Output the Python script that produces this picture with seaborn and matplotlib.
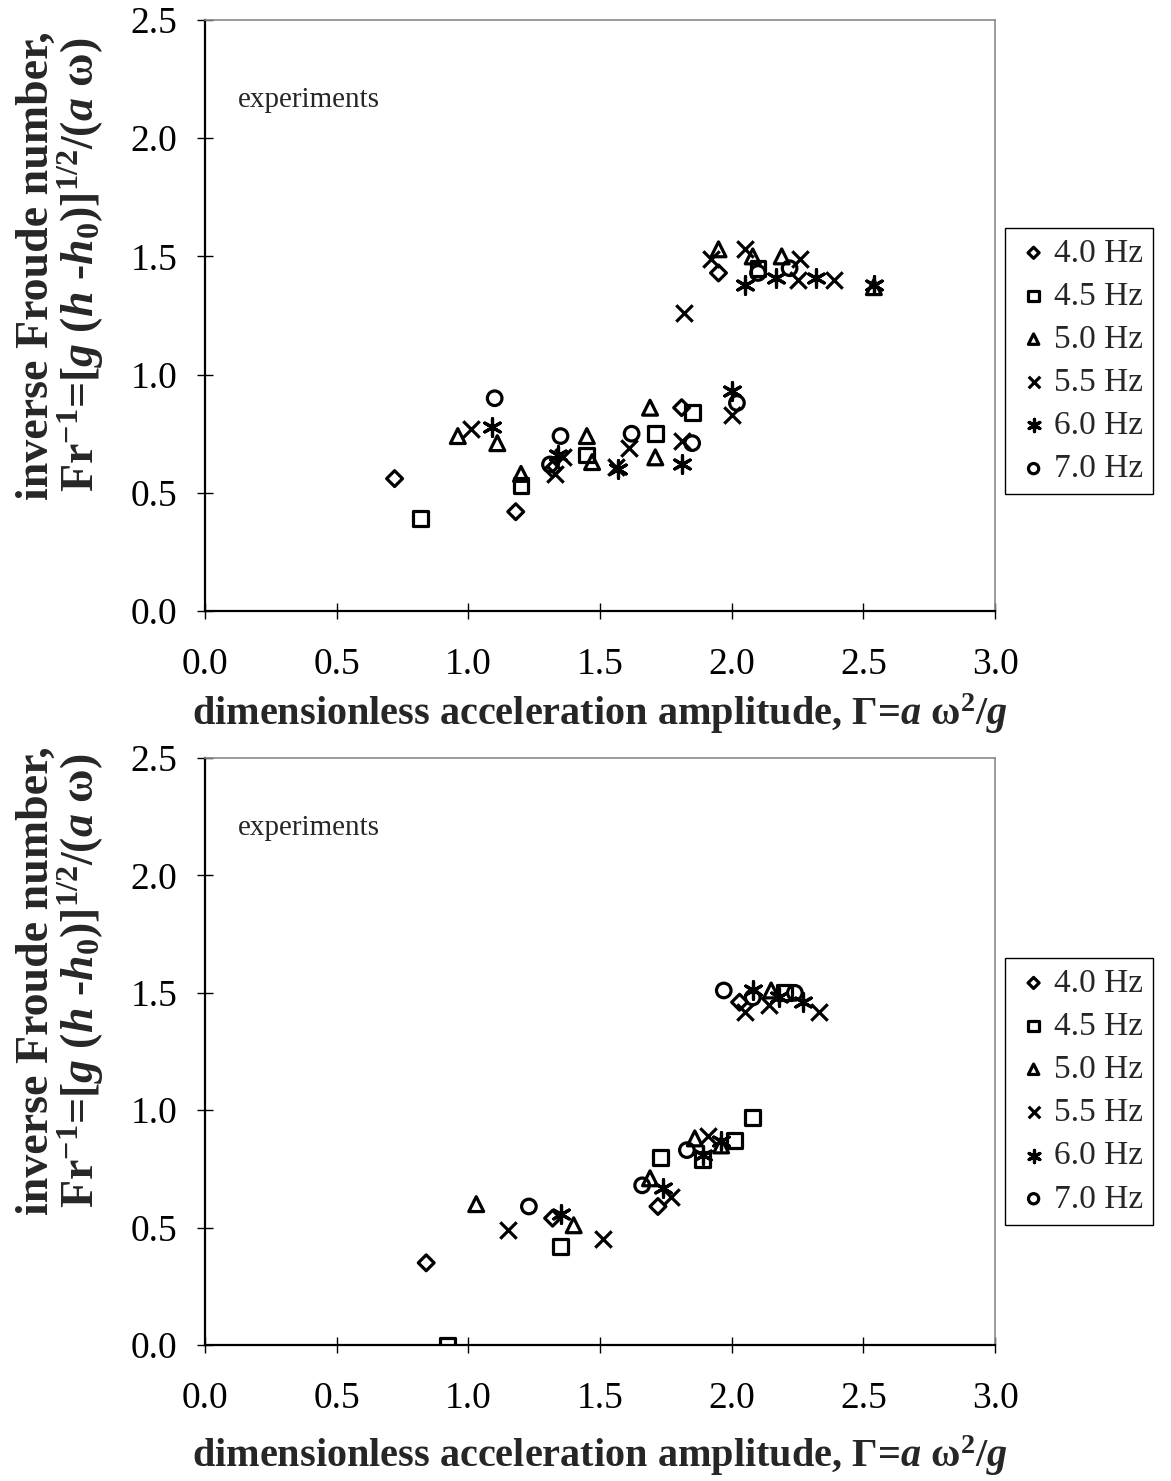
import matplotlib
matplotlib.use("Agg")
import pandas as pd
import matplotlib.pyplot as plt
import seaborn as sns

# ----------------------------------
# Data
# ----------------------------------
freqs = ["4.0 Hz", "4.5 Hz", "5.0 Hz", "5.5 Hz", "6.0 Hz", "7.0 Hz"]

# upper panel
top_40_gamma = [0.72, 1.18, 1.32, 1.81, 1.95]
top_40_fr = [0.56, 0.42, 0.60, 0.86, 1.43]
top_45_gamma = [0.82, 1.20, 1.45, 1.71, 1.85, 2.10]
top_45_fr = [0.39, 0.53, 0.66, 0.75, 0.84, 1.45]
top_50_gamma = [0.96, 1.11, 1.20, 1.45, 1.47, 1.69, 1.71, 1.95, 2.08, 2.19, 2.54]
top_50_fr = [0.74, 0.71, 0.58, 0.74, 0.63, 0.86, 0.65, 1.53, 1.50, 1.50, 1.37]
top_55_gamma = [1.01, 1.33, 1.36, 1.56, 1.61, 1.81, 1.82, 1.92, 2.00, 2.05, 2.25, 2.26, 2.39]
top_55_fr = [0.77, 0.58, 0.65, 0.61, 0.69, 0.72, 1.26, 1.49, 0.83, 1.53, 1.40, 1.49, 1.40]
top_60_gamma = [1.09, 1.34, 1.57, 1.81, 2.00, 2.05, 2.17, 2.32, 2.54]
top_60_fr = [0.78, 0.66, 0.60, 0.62, 0.93, 1.38, 1.41, 1.41, 1.38]
top_70_gamma = [1.10, 1.31, 1.35, 1.62, 1.85, 2.02, 2.10, 2.22]
top_70_fr = [0.90, 0.62, 0.74, 0.75, 0.71, 0.88, 1.43, 1.45]

# lower panel
bot_40_gamma = [0.84, 1.32, 1.72, 2.03]
bot_40_fr = [0.35, 0.54, 0.59, 1.46]
bot_45_gamma = [0.92, 1.35, 1.73, 1.89, 2.01, 2.08, 2.20]
bot_45_fr = [0.00, 0.42, 0.80, 0.79, 0.87, 0.97, 1.50]
bot_50_gamma = [1.03, 1.40, 1.69, 1.86, 1.96, 2.15]
bot_50_fr = [0.60, 0.51, 0.71, 0.88, 0.85, 1.51]
bot_55_gamma = [1.15, 1.51, 1.77, 1.91, 2.05, 2.14, 2.33]
bot_55_fr = [0.49, 0.45, 0.63, 0.89, 1.42, 1.45, 1.42]
bot_60_gamma = [1.35, 1.74, 1.89, 1.96, 2.08, 2.18, 2.27]
bot_60_fr = [0.56, 0.67, 0.81, 0.87, 1.51, 1.48, 1.46]
bot_70_gamma = [1.23, 1.66, 1.83, 1.97, 2.08, 2.24]
bot_70_fr = [0.59, 0.68, 0.83, 1.51, 1.48, 1.50]


def build(groups):
    rows = []
    for f, (gam, fr) in zip(freqs, groups):
        for g, v in zip(gam, fr):
            rows.append({"freq": f, "gamma": g, "fr": v})
    return pd.DataFrame(rows)


df_top = build([(top_40_gamma, top_40_fr), (top_45_gamma, top_45_fr),
                (top_50_gamma, top_50_fr), (top_55_gamma, top_55_fr),
                (top_60_gamma, top_60_fr), (top_70_gamma, top_70_fr)])
df_bot = build([(bot_40_gamma, bot_40_fr), (bot_45_gamma, bot_45_fr),
                (bot_50_gamma, bot_50_fr), (bot_55_gamma, bot_55_fr),
                (bot_60_gamma, bot_60_fr), (bot_70_gamma, bot_70_fr)])

# ----------------------------------
# Style
# ----------------------------------
sns.set_theme(style="white")
plt.rcParams["font.family"] = ["Liberation Serif", "DejaVu Serif"]
plt.rcParams["mathtext.fontset"] = "custom"
plt.rcParams["mathtext.rm"] = "Liberation Serif:bold"
plt.rcParams["mathtext.it"] = "Liberation Serif:italic:bold"
plt.rcParams["mathtext.bf"] = "Liberation Serif:bold"

markers = {"4.0 Hz": "D", "4.5 Hz": "s", "5.0 Hz": "^",
           "5.5 Hz": "x", "6.0 Hz": (6, 2, 0), "7.0 Hz": "o"}
sizes = {"4.0 Hz": 65, "4.5 Hz": 115, "5.0 Hz": 115,
         "5.5 Hz": 140, "6.0 Hz": 160, "7.0 Hz": 110}
line_art = ["5.5 Hz", "6.0 Hz"]

xlab = r"dimensionless acceleration amplitude, Γ=$\mathit{a}$ ω$^{2}$/$\mathit{g}$"
ylab = ("inverse Froude number,\n"
        r"Fr$^{-1}$=[$\mathit{g}$ ($\mathit{h}$ -$\mathit{h}_{\mathit{0}}$)]$^{1/2}$/($\mathit{a}$ ω)")

fig = plt.figure(figsize=(11.71, 14.81), dpi=100)
W, H = 1171, 1481
ax_top = fig.add_axes([205 / W, 1 - 611 / H, 790 / W, 591 / H])
ax_bot = fig.add_axes([205 / W, 1 - 1345 / H, 790 / W, 587 / H])


def draw(ax, df, leg_top, label_y, text_y, xpad):
    for f in freqs:
        sub = df[df["freq"] == f]
        if f in line_art:
            sns.scatterplot(data=sub, x="gamma", y="fr", marker=markers[f],
                            s=sizes[f], color="black", linewidth=2.3,
                            label=f, ax=ax)
        else:
            sns.scatterplot(data=sub, x="gamma", y="fr", marker=markers[f],
                            s=sizes[f], facecolor="none", edgecolor="black",
                            linewidth=2.3, label=f, ax=ax)
    ax.set_xlim(0, 3.0)
    ax.set_ylim(0, 2.5)
    ax.set_xticks([0, 0.5, 1.0, 1.5, 2.0, 2.5, 3.0])
    ax.set_yticks([0, 0.5, 1.0, 1.5, 2.0, 2.5])
    ax.xaxis.set_major_formatter(plt.FormatStrFormatter("%.1f"))
    ax.yaxis.set_major_formatter(plt.FormatStrFormatter("%.1f"))
    ax.tick_params(axis="both", direction="inout", length=12, width=1,
                   labelsize=27, colors="black", pad=14,
                   bottom=True, left=True, top=False, right=False)
    ax.tick_params(axis="x", pad=20)
    for side in ["top", "right"]:
        ax.spines[side].set_color("#8a8a8a")
        ax.spines[side].set_linewidth(1.2)
    for side in ["left", "bottom"]:
        ax.spines[side].set_color("black")
        ax.spines[side].set_linewidth(1.6)
    ax.set_xlabel(xlab, fontsize=29, fontweight="bold", labelpad=xpad)
    ax.set_ylabel(ylab, fontsize=33, fontweight="bold", linespacing=0.95)
    ax.yaxis.set_label_coords(-0.125, label_y)
    ax.text(0.042, text_y, "experiments", transform=ax.transAxes,
            fontsize=21, va="center", ha="left")
    leg = ax.legend(loc="upper left", bbox_to_anchor=(1.013, leg_top),
                    fontsize=24, frameon=True, fancybox=False,
                    edgecolor="black", framealpha=1, borderpad=0.3,
                    labelspacing=0.38, handletextpad=0.05, handlelength=1.1,
                    markerscale=0.7, borderaxespad=0)
    leg.get_frame().set_linewidth(1.0)


draw(ax_top, df_top, 0.648, 0.585, 0.865, 7)
draw(ax_bot, df_bot, 0.659, 0.62, 0.881, 13)

fig.savefig("out.png", dpi=100)
